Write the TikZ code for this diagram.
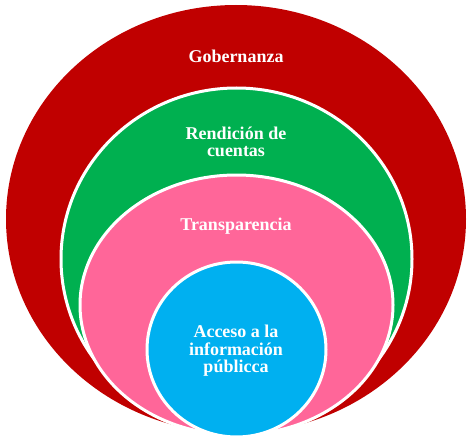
\documentclass[tikz,border=0pt]{standalone}
\usepackage{fontspec}
\setmainfont{Liberation Serif}
\usetikzlibrary{shapes.geometric}
\definecolor{gobred}{HTML}{C00000}
\definecolor{rendgreen}{HTML}{00B050}
\definecolor{transpink}{HTML}{FF6699}
\definecolor{accblue}{HTML}{00B0F0}
\tikzset{
  ring/.style={ellipse, draw=white, line width=3pt, inner sep=0pt, outer sep=0pt},
  lbl/.style={text=white, font=\bfseries\fontsize{18}{17.5}\selectfont, align=center, inner sep=0pt}
}
\begin{document}
\begin{tikzpicture}[x=1pt,y=-1pt]
\useasboundingbox (0,0) rectangle (471,441);
\node[ring, draw=none, fill=gobred, minimum width=460pt, minimum height=428pt] (gob) at (236,219) {};
\node[ring, fill=rendgreen, minimum width=351pt, minimum height=342pt] (rend) at (236.5,259) {};
\node[ring, fill=transpink, minimum width=313pt, minimum height=260pt] (trans) at (236.5,305) {};
\node[ring, fill=accblue, minimum width=179pt, minimum height=175pt] (acc) at (236.5,349.5) {};
\node[lbl] (tgob) at (236,56) {Gobernanza};
\node[lbl] (trend) at (236,142) {Rendición de\\cuentas};
\node[lbl] (ttrans) at (236,226) {Transparencia};
\node[lbl] (tacc) at (236,351) {Acceso a la\\información\\públicca};
\end{tikzpicture}
\end{document}
